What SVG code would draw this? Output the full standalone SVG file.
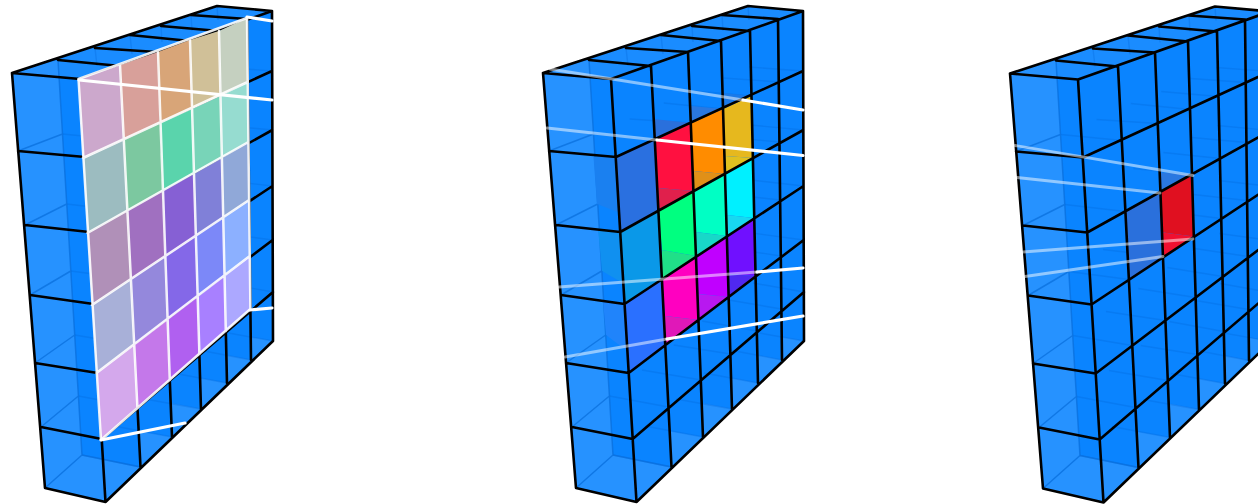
<svg xmlns="http://www.w3.org/2000/svg" width="1258" height="504" viewBox="0 0 1258 504">
<style>
.blk{fill:none;stroke:#000;stroke-width:2.6;stroke-linecap:round;stroke-linejoin:round}
.fnt{fill:none;stroke:#0468d8;stroke-width:1.4;opacity:.3}
.fnt2{fill:none;stroke:#0a6fdc;stroke-width:1.5;opacity:.75}
.lt{fill:#2692ff}
.wht{fill:none;stroke:#fff;stroke-width:3.2;stroke-linecap:round}
.dim{fill:none;stroke:#fff;stroke-width:2.8;stroke-linecap:round;opacity:.5}
.pg{fill:none;stroke:#fff;stroke-width:2.5;stroke-linecap:round;opacity:.9}
</style>
<defs>
<g id="box">
<polygon points="12,73 217,6 272,11 273,341 105.500,502 45,488" fill="#0a84ff"/>
<polygon points="12,73 217,6 272,11 80,79" fill="#1a8cff"/>
<polygon class="lt" points="12,73 58,60 82,455 45,488"/>
<polygon class="lt" points="45,488 82,455 140.500,467 105.500,502"/>
<polygon class="lt" points="138.500,431 172,437 140.500,467"/>
<polygon class="lt" points="171,403 201,409 172,437"/>
<polygon class="lt" points="200,378 227,383 201,409"/>
<polygon class="lt" points="226,355 251,360 227,383"/>
<polygon class="lt" points="250.500,337 273,341 251,360"/>
<path class="fnt" d="M124 140L62.500 134M160 123L98.600 119M192 109L132.800 103M220.500 96L163.200 91M248 82L192.500 78M272 71L218 67M127.400 211L66.700 204M162.400 191L102 186M194 174L135.500 168M222 158L165.400 152M248.400 142L193.900 137M272.400 130L219.200 125M131 279L70.800 271M165 256L105 249M196 236L138 229M223 218L167.400 211M249 200L195.300 194M272.500 186L220.200 180M134 345L74.700 335M167.400 320L108 311M197.600 297L140.400 288M224.600 276L169.300 267M250 256L196.600 248M272.700 240L221.200 233M137.400 407L78.400 396M170 380L111 370M199.400 354L142.800 345M225.800 331L171.200 321M250.400 309L197.800 300M273 292L222.100 283M140.500 467L82 455M172 437L114 426M201 409L145 399M227 383L173 373M251 360L199 350M273 341L223 332"/>
<path class="fnt" d="M95 48L97 66M130 35L132 54M161 26L162 42M191 15L192 31M217 6L218 20"/>
<path class="fnt2" d="M58 60L82 455M18 151L62.500 134M25 225L66.700 204M30 295L70.800 271M35 363L74.700 335M41 427L78.400 396M45 488L82 455L140.500 467"/>
</g>
<g id="grid">
<path class="blk" d="M12 73L217 6L272 11L273 341L105.500 502L45 488L12 73M80 79L272 11M85 157L272 71M89.200 232L272.400 130M93.500 304L272.500 186M97.700 373L272.700 240M101.700 439L273 292M80 79L105.500 502M120 66L140.500 467M157 52L172 437M190 41L201 409M219 31L227 383M247 19L251 360M12 73L80 79M58 60L120 66M95 48L157 52M130 35L190 41M161 26L219 31M191 15L247 19M18 151L85 157M25 225L89.200 232M30 295L93.500 304M35 363L97.700 373M41 427L101.700 439"/>
</g>
</defs>

<g id="figure-left">
<use href="#box"/>
<use href="#grid"/>
<g id="left-panel">
<polygon fill="#cca8cc" points="78.500,79 120,65 123.800,140 83,158"/>
<polygon fill="#d8a09a" points="120,65 158,52 159.800,123 123.800,140"/>
<polygon fill="#d8a578" points="158,52 190,40 192,109 159.800,123"/>
<polygon fill="#d0c098" points="190,40 219,31 220.500,96 192,109"/>
<polygon fill="#c5d0c0" points="219,31 247,18 247.700,82 220.500,96"/>
<polygon fill="#9cbcc0" points="83,158 123.800,140 127.400,211 87.500,233"/>
<polygon fill="#7cc8a0" points="123.800,140 159.800,123 162.400,191 127.400,211"/>
<polygon fill="#5ad4ac" points="159.800,123 192,109 194,174 162.400,191"/>
<polygon fill="#78d4b8" points="192,109 220.500,96 221.900,158 194,174"/>
<polygon fill="#96dcd0" points="220.500,96 247.700,82 248.400,142 221.900,158"/>
<polygon fill="#b090b8" points="87.500,233 127.400,211 131,279 92,305"/>
<polygon fill="#a070c0" points="127.400,211 162.400,191 165,256 131,279"/>
<polygon fill="#8660d4" points="162.400,191 194,174 195.800,236 165,256"/>
<polygon fill="#8080d8" points="194,174 221.900,158 223.200,218 195.800,236"/>
<polygon fill="#90a8d8" points="221.900,158 248.400,142 249.100,200 223.200,218"/>
<polygon fill="#a8b0d8" points="92,305 131,279 134.200,345 96.500,373"/>
<polygon fill="#9488dc" points="131,279 165,256 167.400,320 134.200,345"/>
<polygon fill="#8468e8" points="165,256 195.800,236 197.600,297 167.400,320"/>
<polygon fill="#7c88f8" points="195.800,236 223.200,218 224.600,276 197.600,297"/>
<polygon fill="#8cb0ff" points="223.200,218 249.100,200 249.800,256 224.600,276"/>
<polygon fill="#d4a8ec" points="96.500,373 134.200,345 137.400,407 101,440"/>
<polygon fill="#c478ea" points="134.200,345 167.400,320 169.800,380 137.400,407"/>
<polygon fill="#b060f0" points="167.400,320 197.600,297 199.400,354 169.800,380"/>
<polygon fill="#a880ff" points="197.600,297 224.600,276 225.800,331 199.400,354"/>
<polygon fill="#aca8ff" points="224.600,276 249.800,256 250.400,309 225.800,331"/>
<path class="pg" d="M78.500 79L247 18M83 158L247.700 82M87.500 233L248.400 142M92 305L249.100 200M96.500 373L249.800 256M101 440L250.400 309M78.500 79L101 440M120 65L137.400 407M158 52L169.800 380M190 40L199.400 354M219 31L225.800 331M247 18L250.400 309"/>
</g>
<path class="wht" d="M79 80L272 100M247 17L272 21M250 310L272 308M101 440L185 423"/>
</g>

<g id="figure-middle" transform="translate(531,0)">
<use href="#box"/>
<g id="middle-shadow">
<polygon fill="#2a70e0" points="85,157 124,140 127.400,211 89.200,232"/>
<polygon fill="#1a80f0" points="62.500,157 85,157 89.200,213 66,204"/>
<polygon fill="#0a98e8" points="89.200,232 127.400,211 131,279 93.500,304"/>
<polygon fill="#1090f0" points="67,228 89.200,232 93.500,284 71,271"/>
<polygon fill="#2a70ff" points="93.500,304 131,279 134,345 97.700,373"/>
<polygon fill="#2084fb" points="72,300 93.500,304 97.700,352 75,335"/>
<polygon fill="#2a70dc" points="122,119 160,123 124,140"/>
<polygon fill="#2a78e0" points="160,106 192,109 160,123"/>
<polygon fill="#1a7ae8" points="192,93 220.500,96 192,109"/>
</g>
<g id="middle-cells">
<polygon fill="#ff1040" points="124,140 160,123 162.400,191 127,188"/>
<polygon fill="#e0204c" points="127,188 162.400,191 127.400,211"/>
<polygon fill="#ff8c00" points="160,123 192,109 194,174 162,171"/>
<polygon fill="#e09018" points="162,171 194,174 162.400,191"/>
<polygon fill="#e6b81e" points="192,109 220.500,96 222,158 194,156"/>
<polygon fill="#e0c020" points="194,156 222,158 194,174"/>
<polygon fill="#00ff80" points="127.400,211 162.400,191 165,256 131,250"/>
<polygon fill="#20e088" points="131,250 165,256 131,279"/>
<polygon fill="#00ffc4" points="162.400,191 194,174 196,236 165,232"/>
<polygon fill="#18d8c8" points="165,232 196,236 165,256"/>
<polygon fill="#00f0ff" points="194,174 222,158 223,218 196,215"/>
<polygon fill="#18d8f0" points="196,215 223,218 196,236"/>
<polygon fill="#ff00c0" points="131,279 165,256 167.400,320 134,316"/>
<polygon fill="#e018b8" points="134,316 167.400,320 134,345"/>
<polygon fill="#c000ff" points="165,256 196,236 197.600,297 167,294"/>
<polygon fill="#b818f0" points="167,294 197.600,297 167.400,320"/>
<polygon fill="#7010ff" points="196,236 223,218 224.600,276 197.600,274"/>
<polygon fill="#5028f0" points="197.600,274 224.600,276 197.600,297"/>
</g>
<use href="#grid"/>
<path class="dim" d="M19 69L212 100M16 128L126 140M28 287L226 272M34 357L136 339"/>
<path class="wht" d="M212 100L272 110M126 140L272 155.500M226 272L272 268M136 339L272 316"/>
</g>

<g id="figure-right" transform="translate(998,0.500)">
<use href="#box"/>
<g id="right-cell">
<polygon fill="#2a70dc" points="127.400,211 162.400,191 165,256 131,279"/>
<polygon fill="#2a78e0" points="162,172 194,174 162.400,191"/>
<polygon fill="#e01020" points="162.400,191 194,174 196,236 165,232"/>
<polygon fill="#f01030" points="165,232 196,236 165,256"/>
</g>
<use href="#grid"/>
<path class="dim" d="M17 145L195 175M19 177L162 192.500M25 251.500L195 238.500M27 276L165 256"/>
</g>
</svg>
